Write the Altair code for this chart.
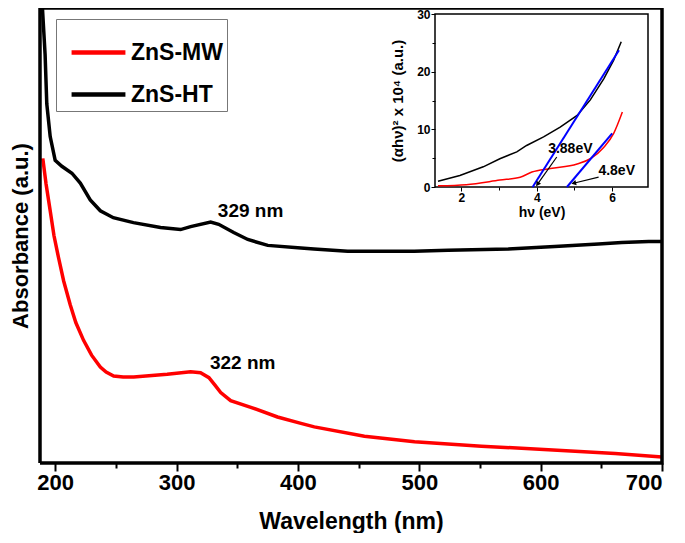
import altair as alt
import pandas as pd

FONT = "Liberation Sans"

# ---------------- main spectra ----------------
black_wl = [189.5, 191.7, 193.1, 195.9, 200, 205.5, 213.8, 220.7, 228.9, 237.2, 247.9, 264.5,
            286.8, 303.3, 311.6, 328.1, 334.7, 347.1, 358.7, 375.2, 402.5, 413.2, 441, 495.9,
            523.7, 573.3, 611.6, 647.7, 666.9, 689, 700]
black_abs = [460, 413, 363, 330, 306, 300, 293, 283, 266, 255, 248, 243,
             238, 236, 239, 243.7, 241.3, 233, 226, 220, 217.3, 216.3, 214, 214,
             215, 216.3, 219, 221.3, 223, 224, 224]

red_wl = [189.8, 192.5, 195.9, 199, 202.7, 207, 212.4, 217, 223.4, 230, 237.2, 242, 248.2, 256,
          264.7, 292.3, 311.6, 319.8, 326.7, 331.5, 336.4, 344.6, 361.2, 383.2, 402.5, 413.5,
          454.8, 496.1, 551.2, 606.4, 661.4, 700]
red_abs = [308, 282, 255, 230, 208, 184, 160, 142, 124, 109, 97, 92, 88, 87,
           87, 89.7, 92.3, 91.3, 86.3, 79, 71.3, 63, 56.3, 46.5, 40, 36.5,
           27, 21.5, 17, 13.5, 9.7, 6]

series_names = ["ZnS-MW", "ZnS-HT", "frame"]
series_colors = ["#ff0000", "#000000", "#000000"]

peak_labels = ["329 nm", "322 nm"]
peak_wl = [361, 354.5]
peak_abs = [255, 101]

# plot frame corners (wavelength, absorbance)
frame_wl = [187.5, 700, 700, 187.5, 187.5]
frame_abs = [0, 0, 460, 460, 0]

# ---------------- inset (Tauc plot) ----------------
ib_e = [1.38, 1.96, 2.58, 3.02, 3.47, 3.73, 4.18, 4.62, 5.07, 5.42, 5.78, 6.04, 6.24]
ib_v = [1.0, 2.0, 3.5, 4.9, 6.1, 7.2, 8.7, 10.4, 12.4, 15.1, 18.8, 22.0, 25.2]
ir_e = [1.38, 2.13, 3.02, 3.56, 3.87, 4.36, 5.07, 5.42, 5.78, 6.04, 6.27]
ir_v = [0.2, 0.4, 1.2, 1.7, 2.6, 3.2, 4.0, 4.9, 6.9, 9.3, 13.0]
fit_id = ["a", "a", "b", "b"]
fit_e = [3.89, 6.18, 4.8, 6.0]
fit_v = [0.0, 23.7, 0.0, 9.3]

inset_frame_e = [1.3, 6.95, 6.95, 1.3, 1.3]
inset_frame_v = [0, 0, 30, 30, 0]

gap_labels = ["3.88eV", "4.8eV"]
gap_text_e = [4.89, 6.12]
gap_text_v = [6.6, 2.8]
arrow_e1 = [4.53, 5.64]
arrow_v1 = [5.2, 1.7]
arrow_e2 = [4.03, 5.0]
arrow_v2 = [0.6, 0.7]
arrow_angle = [215, 256]

# ---------------- tables ----------------
main_df = pd.concat([
    pd.DataFrame({"wl": red_wl, "a": red_abs, "series": "ZnS-MW", "o": range(len(red_wl))}),
    pd.DataFrame({"wl": black_wl, "a": black_abs, "series": "ZnS-HT", "o": range(len(black_wl))}),
    pd.DataFrame({"wl": frame_wl, "a": frame_abs, "series": "frame", "o": range(len(frame_wl))}),
])
peak_df = pd.DataFrame({"wl": peak_wl, "a": peak_abs, "t": peak_labels})

ib_df = pd.DataFrame({"e": ib_e, "v": ib_v})
ir_df = pd.DataFrame({"e": ir_e, "v": ir_v})
fit_df = pd.DataFrame({"id": fit_id, "e": fit_e, "v": fit_v})
inset_frame_df = pd.DataFrame({"e": inset_frame_e, "v": inset_frame_v, "o": range(5)})
arrow_df = pd.DataFrame({"e": arrow_e1, "v": arrow_v1, "e2": arrow_e2, "v2": arrow_v2,
                         "ang": arrow_angle})
gap_df = pd.DataFrame({"e": gap_text_e, "v": gap_text_v, "t": gap_labels})

W, H = 622, 455

# ---------------- main chart ----------------
xs_main = alt.Scale(domain=[187.5, 700], nice=False, zero=False)
ys_main = alt.Scale(domain=[0, 460], nice=False, zero=False)

x_axis_main = alt.Axis(
    title="Wavelength (nm)", values=[200, 250, 300, 350, 400, 450, 500, 550, 600, 650, 700],
    labelExpr="datum.value % 100 === 0 ? datum.label : ''",
    tickSize={"condition": {"test": "datum.value % 100 === 0", "value": 8}, "value": 5},
    tickWidth=2, tickColor="black", grid=False, domain=False,
    labelFont=FONT, labelFontSize=22, labelFontWeight="bold", labelColor="black", labelPadding=1,
    titleFont=FONT, titleFontSize=23, titleFontWeight="bold", titleColor="black", titlePadding=17,
)
y_axis_main = alt.Axis(
    title="Absorbance (a.u.)", labels=False, ticks=False, grid=False, domain=False,
    titleFont=FONT, titleFontSize=22, titleFontWeight="bold", titleColor="black", titlePadding=8,
)

def mx():
    return alt.X("wl:Q", scale=xs_main, axis=x_axis_main)

def my():
    return alt.Y("a:Q", scale=ys_main, axis=y_axis_main)

lines = alt.Chart(main_df).mark_line(strokeWidth=3.5).encode(
    x=mx(), y=my(),
    order="o:Q",
    color=alt.Color("series:N", scale=alt.Scale(domain=series_names, range=series_colors),
                    legend=alt.Legend(
                        title=None, orient="none", legendX=16, legendY=11,
                        values=["ZnS-MW", "ZnS-HT"],
                        symbolType="stroke", symbolSize=2900, symbolStrokeWidth=4.5,
                        symbolOffset=9,
                        labelFont=FONT, labelFontSize=23, labelFontWeight="bold",
                        labelColor="black", strokeColor="#777777", padding=4,
                        labelOffset=3, rowPadding=-24)),
)

peaks = alt.Chart(peak_df).mark_text(font=FONT, fontSize=19, fontWeight="bold",
                                     color="black").encode(
    x=mx(), y=my(), text="t:N",
)

main = alt.layer(lines, peaks)

# ---------------- inset chart ----------------
xs_in = alt.Scale(domain=[1.3, 6.95], range=[395, 608], nice=False, zero=False)
ys_in = alt.Scale(domain=[0, 30], range=[179, 6], nice=False, zero=False)

x_axis_in = alt.Axis(
    title="hν (eV)", orient="bottom", offset=-276, values=[2, 3, 4, 5, 6],
    labelExpr="datum.value % 2 === 0 ? datum.label : ''",
    tickSize={"condition": {"test": "datum.value % 2 === 0", "value": 4}, "value": 3},
    tickColor="black", domain=False, grid=False,
    labelFont=FONT, labelFontSize=12, labelFontWeight="bold", labelColor="black", labelPadding=1,
    titleFont=FONT, titleFontSize=14, titleFontWeight="bold", titleColor="black", titlePadding=2,
)
y_axis_in = alt.Axis(
    title="(αhν)² x 10⁴ (a.u.)", orient="left", offset=-395, values=[0, 5, 10, 15, 20, 25, 30],
    labelExpr="datum.value % 10 === 0 ? datum.label : ''",
    tickSize={"condition": {"test": "datum.value % 10 === 0", "value": 4}, "value": 3},
    tickColor="black", domain=False, grid=False,
    labelFont=FONT, labelFontSize=12, labelFontWeight="bold", labelColor="black", labelPadding=1,
    titleFont=FONT, titleFontSize=15, titleFontWeight="bold", titleColor="black", titlePadding=11,
)

def ix():
    return alt.X("e:Q", scale=xs_in, axis=x_axis_in)

def iy():
    return alt.Y("v:Q", scale=ys_in, axis=y_axis_in)

frame = alt.Chart(inset_frame_df).mark_line(color="black", strokeWidth=1.5).encode(
    x=ix(), y=iy(), order="o:Q")
ib_line = alt.Chart(ib_df).mark_line(color="black", strokeWidth=1.5).encode(x=ix(), y=iy())
ir_line = alt.Chart(ir_df).mark_line(color="#ff0000", strokeWidth=1.5,
                                     interpolate="monotone").encode(x=ix(), y=iy())
fits = alt.Chart(fit_df).mark_line(color="#0000ff", strokeWidth=2).encode(
    x=ix(), y=iy(), detail="id:N")
arrows = alt.Chart(arrow_df).mark_rule(color="black", strokeWidth=1.2).encode(
    x=ix(), y=iy(), x2="e2:Q", y2="v2:Q")
heads = alt.Chart(arrow_df).mark_point(shape="triangle", filled=True, color="black",
                                       size=30, opacity=1).encode(
    x=alt.X("e2:Q", scale=xs_in, axis=x_axis_in),
    y=alt.Y("v2:Q", scale=ys_in, axis=y_axis_in),
    angle=alt.Angle("ang:Q", scale=None))
gap_text = alt.Chart(gap_df).mark_text(font=FONT, fontSize=14, fontWeight="bold",
                                       color="black").encode(x=ix(), y=iy(), text="t:N")

inset = alt.layer(frame, ib_line, ir_line, fits, arrows, heads, gap_text)

chart = alt.layer(main, inset).resolve_scale(
    x="independent", y="independent"
).resolve_axis(
    x="independent", y="independent"
).properties(
    width=W, height=H,
    autosize=alt.AutoSizeParams(type="none"),
    padding={"left": 32, "top": 0, "right": 15, "bottom": 70},
).configure(background="white")

chart.save("out.html", embed_options={"renderer": "svg", "actions": False})
